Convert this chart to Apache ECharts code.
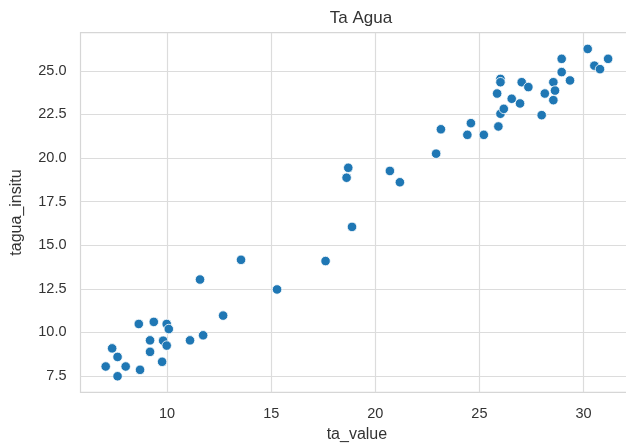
<!DOCTYPE html>
<html>
<head>
<meta charset="utf-8">
<script src="https://cdn.jsdelivr.net/npm/echarts@6/dist/echarts.min.js"></script>
<style>html,body{margin:0;padding:0;background:#fff}#c{width:626px;height:444px}</style>
</head>
<body>
<div id="c"></div>
<script>
const taValue = [7.05,7.36,7.62,7.62,8.01,8.64,8.70,9.18,9.18,9.36,9.76,9.81,9.98,10.08,9.98,11.10,11.73,12.69,11.58,13.55,15.28,
  17.61,18.88,18.62,18.70,20.70,21.18,22.92,23.15,
  24.42,24.59,25.21,25.91,25.85,26.01,26.17,26.01,26.01,26.55,26.95,27.03,27.35,27.99,28.14,28.55,28.63,28.55,28.95,28.95,29.35,30.20,30.52,30.79,31.18];
const taguaInsitu = [8.04,9.08,8.59,7.48,8.04,10.48,7.85,9.54,8.88,10.60,8.31,9.52,10.48,10.19,9.24,9.54,9.83,10.96,13.03,14.16,12.46,
  14.09,16.05,18.87,19.44,19.26,18.61,20.25,21.65,
  21.33,22.00,21.33,21.81,23.70,22.54,22.82,24.54,24.35,23.40,23.13,24.35,24.07,22.46,23.70,24.35,23.87,23.32,24.93,25.69,24.45,26.26,25.30,25.10,25.69];
const xTicks = [10,15,20,25,30];
const yTicks = [7.5,10.0,12.5,15.0,17.5,20.0,22.5,25.0];
const titleText = 'Ta Agua';
const xName = 'ta_value';
const yName = 'tagua_insitu';

const pts = taValue.map((x,i)=>[x, taguaInsitu[i]]);
const font = 'Liberation Sans, Arial, sans-serif';
const chart = echarts.init(document.getElementById('c'), null, {renderer:'canvas'});
chart.setOption({
  backgroundColor:'#fff',
  animation:false,
  title:{text:titleText, left:356, top:5, textAlign:'center',
    textStyle:{fontFamily:font, fontSize:17, fontWeight:'normal', color:'#333'}},
  grid:{left:80.5, top:32.7, right:-7.3, bottom:51.7, show:true, borderColor:'#d6d6d6', borderWidth:1.2,
    containLabel:false, outerBoundsMode:'none'},
  xAxis:{type:'value', min:5.84, max:32.39,
    name:xName, nameLocation:'middle', nameGap:34,
    nameTextStyle:{fontFamily:font, fontSize:16, color:'#333'},
    axisLine:{show:false}, axisTick:{show:false, customValues:xTicks},
    axisLabel:{customValues:xTicks, margin:14, fontFamily:font, fontSize:14.5, color:'#333'},
    splitLine:{show:true, lineStyle:{color:'#dcdcdc', width:1.2}}},
  yAxis:{type:'value', min:6.56, max:27.19,
    name:yName, nameLocation:'middle', nameGap:56, nameRotate:90,
    nameTextStyle:{fontFamily:font, fontSize:16, color:'#333'},
    axisLine:{show:false}, axisTick:{show:false, customValues:yTicks},
    axisLabel:{customValues:yTicks, margin:14, fontFamily:font, fontSize:14.5, color:'#333',
      formatter:v=>Number(v).toFixed(1)},
    splitLine:{show:true, lineStyle:{color:'#dcdcdc', width:1.2}}},
  series:[{type:'scatter', data:pts, symbolSize:9.5,
    itemStyle:{color:'#1f77b4', borderColor:'#fff', borderWidth:0.8, opacity:1}}]
});
</script>
</body>
</html>
